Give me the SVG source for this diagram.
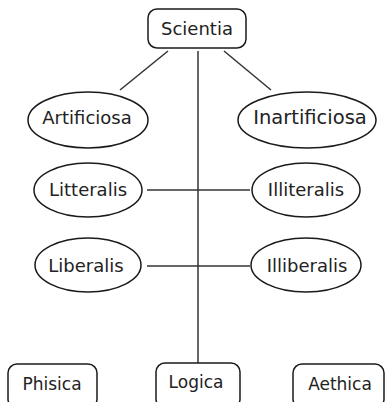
<svg xmlns="http://www.w3.org/2000/svg" width="386" height="402" viewBox="0 0 386 402">
<style>
.n{fill:#fff;stroke:#1a1a1a;stroke-width:1.5}
.t{font-family:"DejaVu Sans",Verdana,sans-serif;font-size:18px;fill:#222;text-anchor:middle}
.s{font-size:17px}
.c{stroke:#333;stroke-width:1.5;fill:none}
</style>
<rect width="386" height="402" fill="#fff"/>
<g id="connectors">
<line class="c" x1="198" y1="51" x2="198" y2="363"/>
<line class="c" x1="168" y1="51" x2="120" y2="90"/>
<line class="c" x1="224" y1="51" x2="271" y2="90"/>
<line class="c" x1="147" y1="190" x2="250" y2="190"/>
<line class="c" x1="147" y1="266" x2="250" y2="266"/>
</g>
<g id="scientia"><rect class="n" x="148" y="9" width="98" height="39" rx="9"/><text class="t" x="197" y="34.5">Scientia</text></g>
<g id="artificiosa"><ellipse class="n" cx="88" cy="120" rx="60" ry="28"/><text class="t" x="87" y="123.5">Artificiosa</text></g>
<g id="inartificiosa"><ellipse class="n" cx="307" cy="120" rx="69" ry="28"/><text class="t" x="310" y="124" style="font-size:19.5px">Inartificiosa</text></g>
<g id="litteralis"><ellipse class="n" cx="88" cy="190" rx="54" ry="27"/><text class="t" x="88" y="196">Litteralis</text></g>
<g id="illiteralis"><ellipse class="n" cx="306" cy="190" rx="54" ry="27"/><text class="t" x="306" y="196">Illiteralis</text></g>
<g id="liberalis"><ellipse class="n" cx="88" cy="265" rx="53" ry="27"/><text class="t" x="86" y="271.5">Liberalis</text></g>
<g id="illiberalis"><ellipse class="n" cx="306" cy="265" rx="55" ry="27"/><text class="t" x="307" y="271.5">Illiberalis</text></g>
<g id="phisica"><rect class="n" x="8" y="364" width="89" height="44" rx="9"/><text class="t s" x="52" y="390">Phisica</text></g>
<g id="logica"><rect class="n" x="156" y="363" width="84" height="45" rx="9"/><text class="t s" x="196" y="387.5">Logica</text></g>
<g id="aethica"><rect class="n" x="293" y="364" width="91" height="44" rx="9"/><text class="t s" x="340" y="390">Aethica</text></g>
</svg>
